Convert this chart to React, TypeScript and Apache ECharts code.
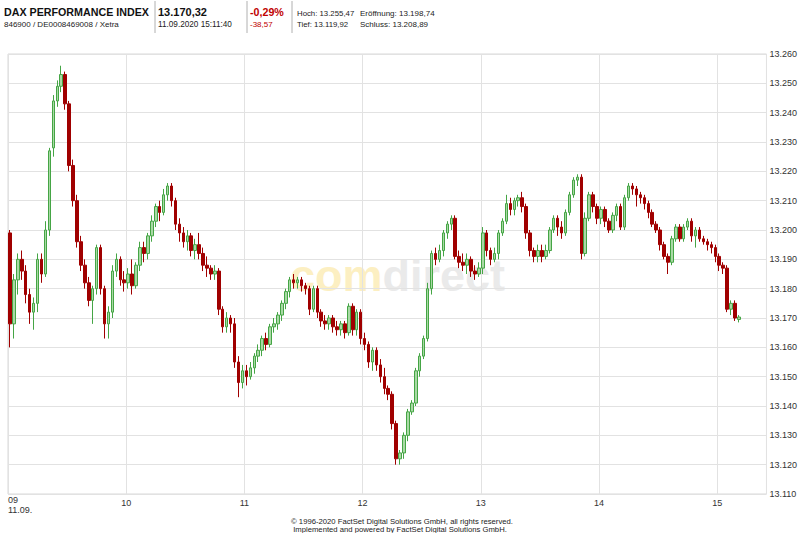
import React, { useEffect, useRef } from 'react';
import * as echarts from 'echarts';

// Intraday DAX 11.09.2020, 2-minute candles [open, close, low, high]
const hourLabels = ['09', '10', '11', '12', '13', '14', '15'];
const yMin = 13110;
const yMax = 13260;

const c09 = [
  [13199, 13168, 13160, 13200], [13168, 13183, 13163, 13185], [13183, 13190, 13178, 13192],
  [13190, 13186, 13183, 13193], [13186, 13178, 13175, 13188], [13178, 13172, 13168, 13180],
  [13172, 13175, 13166, 13177], [13175, 13190, 13172, 13192], [13190, 13185, 13182, 13192],
  [13185, 13200, 13184, 13203], [13200, 13227, 13198, 13228], [13228, 13244, 13225, 13246],
  [13244, 13249, 13242, 13251], [13249, 13253, 13247, 13256], [13253, 13243, 13241, 13254],
  [13243, 13222, 13220, 13244], [13222, 13210, 13208, 13224], [13210, 13196, 13194, 13212],
  [13196, 13188, 13186, 13198], [13188, 13182, 13180, 13190], [13182, 13176, 13174, 13184],
  [13176, 13180, 13168, 13181], [13180, 13194, 13178, 13195], [13194, 13180, 13178, 13195],
  [13180, 13168, 13163, 13181], [13168, 13172, 13163, 13174], [13172, 13186, 13170, 13188],
  [13186, 13190, 13184, 13192], [13190, 13183, 13181, 13191], [13183, 13182, 13179, 13186],
];
const c10 = [
  [13182, 13185, 13180, 13187], [13185, 13181, 13178, 13190], [13181, 13188, 13180, 13189],
  [13188, 13194, 13186, 13196], [13194, 13192, 13189, 13196], [13192, 13198, 13190, 13199],
  [13198, 13203, 13196, 13205], [13203, 13208, 13201, 13209], [13208, 13206, 13203, 13210],
  [13206, 13212, 13205, 13214], [13212, 13215, 13210, 13216], [13215, 13210, 13208, 13216],
  [13210, 13202, 13200, 13211], [13202, 13199, 13196, 13204], [13199, 13196, 13194, 13201],
  [13196, 13198, 13193, 13200], [13198, 13193, 13191, 13199], [13193, 13195, 13190, 13197],
  [13195, 13192, 13190, 13199], [13192, 13188, 13186, 13194], [13188, 13187, 13184, 13191],
  [13187, 13185, 13183, 13188], [13185, 13186, 13183, 13188], [13186, 13173, 13171, 13187],
  [13173, 13167, 13165, 13174], [13167, 13170, 13165, 13172], [13170, 13168, 13165, 13171],
  [13168, 13155, 13153, 13170], [13155, 13148, 13143, 13157], [13148, 13152, 13146, 13154],
];
const c11 = [
  [13152, 13150, 13147, 13154], [13150, 13153, 13149, 13155], [13153, 13157, 13151, 13158],
  [13157, 13159, 13155, 13161], [13159, 13163, 13157, 13164], [13163, 13161, 13159, 13165],
  [13161, 13167, 13160, 13168], [13167, 13168, 13165, 13170], [13168, 13171, 13166, 13172],
  [13171, 13175, 13169, 13176], [13175, 13179, 13173, 13180], [13179, 13183, 13177, 13184],
  [13183, 13182, 13180, 13185], [13182, 13183, 13180, 13184], [13183, 13181, 13179, 13184],
  [13181, 13180, 13178, 13182], [13180, 13173, 13171, 13181], [13173, 13180, 13172, 13181],
  [13180, 13172, 13170, 13181], [13172, 13169, 13167, 13173], [13169, 13168, 13166, 13171],
  [13168, 13170, 13166, 13171], [13170, 13167, 13165, 13171], [13167, 13166, 13164, 13169],
  [13166, 13168, 13164, 13169], [13168, 13165, 13163, 13169], [13165, 13174, 13164, 13175],
  [13174, 13166, 13164, 13175], [13166, 13172, 13164, 13173], [13172, 13163, 13161, 13173],
];
const c12 = [
  [13163, 13161, 13159, 13165], [13161, 13155, 13153, 13162], [13155, 13159, 13152, 13160],
  [13159, 13154, 13152, 13160], [13154, 13150, 13148, 13156], [13150, 13146, 13144, 13153],
  [13146, 13144, 13142, 13147], [13144, 13134, 13132, 13145], [13134, 13122, 13120, 13135],
  [13122, 13124, 13120, 13125], [13124, 13130, 13122, 13131], [13130, 13138, 13128, 13139],
  [13138, 13141, 13137, 13142], [13141, 13152, 13140, 13153], [13152, 13157, 13150, 13158],
  [13157, 13163, 13156, 13164], [13163, 13180, 13162, 13182], [13180, 13192, 13178, 13193],
  [13192, 13190, 13188, 13194], [13190, 13193, 13189, 13195], [13193, 13199, 13191, 13200],
  [13199, 13202, 13197, 13203], [13202, 13204, 13200, 13205], [13204, 13191, 13190, 13205],
  [13191, 13189, 13187, 13193], [13189, 13188, 13186, 13192], [13188, 13190, 13185, 13192],
  [13190, 13186, 13184, 13191], [13186, 13185, 13183, 13188], [13185, 13187, 13184, 13189],
];
const c13 = [
  [13187, 13199, 13185, 13201], [13199, 13193, 13191, 13200], [13193, 13190, 13188, 13194],
  [13190, 13192, 13189, 13194], [13192, 13199, 13190, 13200], [13199, 13203, 13198, 13204],
  [13203, 13209, 13202, 13212], [13209, 13207, 13205, 13211], [13207, 13210, 13205, 13211],
  [13210, 13211, 13208, 13212], [13211, 13208, 13206, 13213], [13208, 13199, 13197, 13209],
  [13199, 13193, 13191, 13200], [13193, 13191, 13189, 13194], [13191, 13193, 13189, 13195],
  [13193, 13191, 13189, 13195], [13191, 13193, 13190, 13195], [13193, 13200, 13192, 13201],
  [13200, 13204, 13199, 13205], [13204, 13201, 13198, 13205], [13201, 13199, 13197, 13203],
  [13199, 13206, 13198, 13207], [13206, 13212, 13205, 13213], [13212, 13217, 13211, 13218],
  [13217, 13218, 13215, 13219], [13218, 13192, 13190, 13219], [13192, 13204, 13191, 13206],
  [13204, 13212, 13203, 13213], [13212, 13208, 13206, 13213], [13208, 13204, 13202, 13209],
];
const c14 = [
  [13204, 13207, 13202, 13208], [13207, 13203, 13201, 13208], [13203, 13200, 13199, 13204],
  [13200, 13205, 13199, 13206], [13205, 13208, 13203, 13209], [13208, 13201, 13200, 13209],
  [13201, 13211, 13200, 13212], [13211, 13215, 13210, 13216], [13215, 13214, 13212, 13216],
  [13214, 13212, 13208, 13215], [13212, 13211, 13209, 13213], [13211, 13209, 13207, 13212],
  [13209, 13206, 13204, 13210], [13206, 13202, 13201, 13207], [13202, 13200, 13199, 13203],
  [13200, 13195, 13193, 13201], [13195, 13191, 13190, 13196], [13191, 13189, 13185, 13192],
  [13189, 13197, 13188, 13198], [13197, 13201, 13196, 13202], [13201, 13197, 13196, 13202],
  [13197, 13201, 13196, 13202], [13201, 13203, 13200, 13204], [13203, 13198, 13196, 13204],
  [13198, 13200, 13194, 13201], [13200, 13197, 13196, 13201], [13197, 13196, 13195, 13198],
  [13196, 13195, 13193, 13197], [13195, 13194, 13192, 13196], [13194, 13191, 13189, 13195],
];
const c15 = [
  [13191, 13188, 13186, 13192], [13188, 13187, 13185, 13189], [13187, 13173, 13172, 13188],
  [13173, 13175, 13171, 13176], [13175, 13170, 13169, 13176], [13169.5, 13170.32, 13168.5, 13171],
];

const FONT = '"Liberation Sans", Arial, sans-serif';

function fmtDE(v: number): string {
  const t = Math.floor(v / 1000);
  const r = String(Math.round(v % 1000)).padStart(3, '0');
  return t + '.' + r;
}

export default function App() {
  const ref = useRef<HTMLDivElement>(null);
  useEffect(() => {
    if (!ref.current) return;
    const chart = echarts.init(ref.current, null, { renderer: 'svg' });
    const all = [...c09, ...c10, ...c11, ...c12, ...c13, ...c14, ...c15];
    const data = all.map((c, i) => [i * 2 + 1, c[0], c[1], c[2], c[3]]);

    const txt = (x: number, y: number, text: string, size: number, opts: any = {}) => ({
      type: 'text',
      x,
      y,
      silent: true,
      style: {
        text,
        fill: opts.fill || '#111',
        font: `${opts.bold ? 'bold ' : ''}${size}px ${FONT}`,
        align: opts.align || 'left',
        verticalAlign: 'middle',
      },
    });
    const sep = (x: number) => ({
      type: 'line',
      silent: true,
      shape: { x1: x, y1: 1, x2: x, y2: 33 },
      style: { stroke: '#b0b0b0', lineWidth: 1 },
    });

    chart.setOption({
      animation: false,
      backgroundColor: '#ffffff',
      grid: {
        left: 8, right: 32, top: 54, bottom: 39,
        show: true, borderColor: '#d8d8d8', borderWidth: 1,
      },
      xAxis: {
        type: 'value', min: 0, max: 385, interval: 60,
        axisLine: { show: false }, axisTick: { show: false },
        splitLine: { show: true, lineStyle: { color: '#e2e2e2', width: 1 } },
        axisLabel: {
          color: '#333', fontSize: 9, fontFamily: FONT, margin: 4,
          formatter: (v: number) => (v > 0 && v % 60 === 0 ? hourLabels[v / 60] : ''),
        },
      },
      yAxis: {
        type: 'value', position: 'right', min: yMin, max: yMax, interval: 10,
        axisLine: { show: false }, axisTick: { show: false },
        splitLine: { show: true, lineStyle: { color: '#e2e2e2', width: 1 } },
        axisLabel: { color: '#333', fontSize: 9, fontFamily: FONT, margin: 3, formatter: fmtDE },
      },
      series: [
        {
          type: 'candlestick',
          data,
          encode: { x: 0, y: [1, 2, 3, 4] },
          barWidth: 3,
          z: 5,
          itemStyle: {
            color: '#a9d9a5',
            color0: '#a00000',
            borderColor: '#45a545',
            borderColor0: '#a00000',
            borderWidth: 1,
          },
        },
      ],
      graphic: [
        {
          type: 'text',
          x: 290,
          y: 275,
          z: -10,
          silent: true,
          style: {
            text: '{a|com}{b|direct}',
            verticalAlign: 'middle',
            rich: {
              a: { fill: '#fcefc2', font: `bold 45px ${FONT}` },
              b: { fill: '#eaeaea', font: `bold 45px ${FONT}` },
            },
          },
        },
        txt(4, 12, 'DAX PERFORMANCE INDEX', 10.7, { bold: true }),
        txt(4, 24.5, '846900 / DE0008469008 / Xetra', 8, { fill: '#222' }),
        sep(155),
        txt(158, 12, '13.170,32', 11, { bold: true }),
        txt(158, 24.5, '11.09.2020 15:11:40', 8.2, { fill: '#222' }),
        sep(247),
        txt(250, 12, '-0,29%', 10.7, { bold: true, fill: '#c00000' }),
        txt(250, 24.5, '-38,57', 8, { fill: '#c00000' }),
        sep(292),
        txt(297, 13.7, 'Hoch: 13.255,47', 7.8, { fill: '#222' }),
        txt(360, 13.7, 'Eröffnung: 13.198,74', 8, { fill: '#222' }),
        txt(297, 24.5, 'Tief: 13.119,92', 7.8, { fill: '#222' }),
        txt(360, 24.5, 'Schluss: 13.208,89', 8, { fill: '#222' }),
        txt(8, 500, '09', 9, { fill: '#333' }),
        txt(8, 509.5, '11.09.', 9, { fill: '#333' }),
        txt(402, 521, '© 1996-2020 FactSet Digital Solutions GmbH, all rights reserved.', 7.7, { fill: '#222', align: 'center' }),
        txt(400, 529.5, 'Implemented and powered by FactSet Digital Solutions GmbH.', 7.7, { fill: '#222', align: 'center' }),
      ],
    });
    return () => chart.dispose();
  }, []);
  return (
    <div
      ref={ref}
      style={{ position: 'fixed', left: 0, top: 0, width: 800, height: 533, background: '#fff' }}
    />
  );
}
